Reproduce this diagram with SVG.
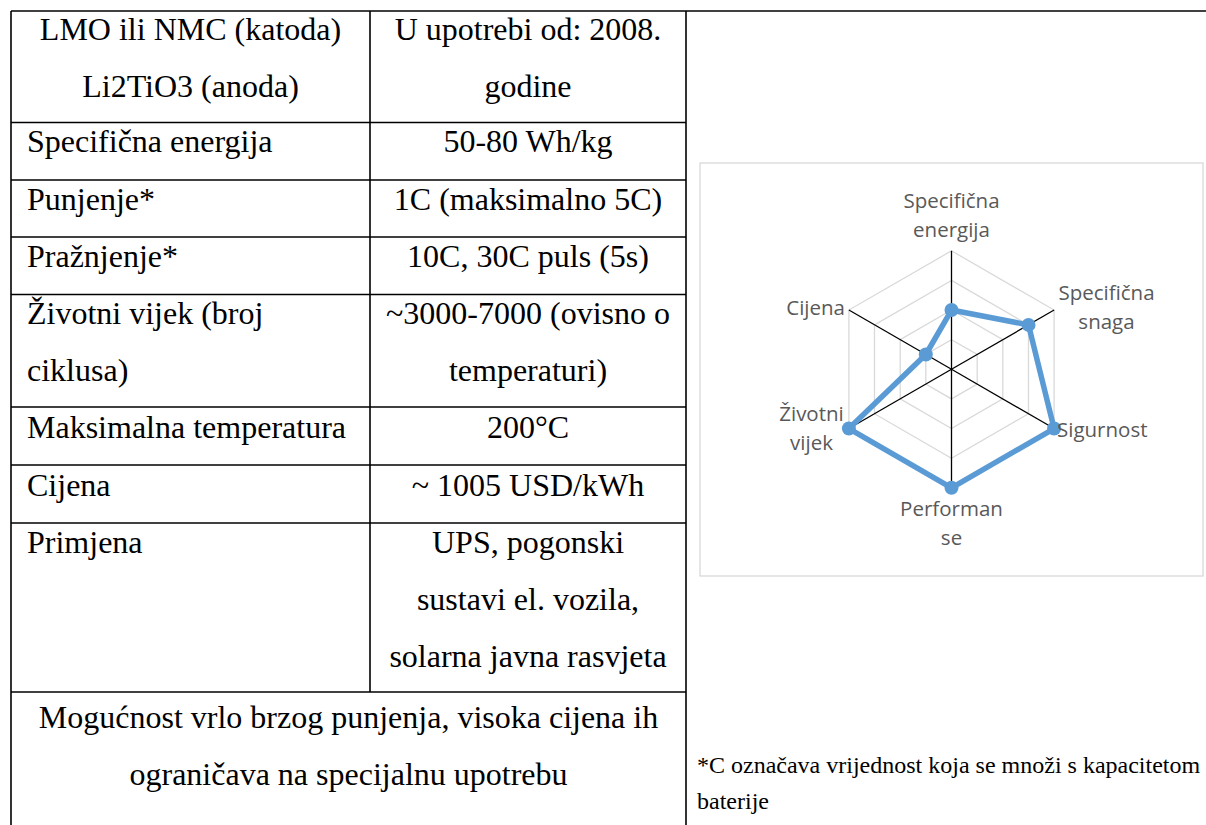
<svg xmlns="http://www.w3.org/2000/svg" width="1206" height="825" viewBox="0 0 1206 825">
<style>
.tl{stroke:#000;stroke-width:1.6;fill:none}
.t{font-family:"Liberation Serif","Times New Roman",serif;font-size:32px;fill:#000}
.c{text-anchor:middle}
.fn{font-family:"Liberation Serif","Times New Roman",serif;font-size:24px;fill:#000}
.lbl{font-family:"Open Sans","Noto Sans",sans-serif;font-size:20.5px;fill:#595959}
.grid{stroke:#D9D9D9;stroke-width:1.3;fill:none}
.ax{stroke:#000;stroke-width:1.3}
.ser{stroke:#5B9BD5;stroke-width:5.5;fill:none;stroke-linejoin:round}
.mk{fill:#5B9BD5}
</style>
<rect width="1206" height="825" fill="#fff"/>
<g id="table">
<g id="table-lines">
<line class="tl" x1="11" y1="11" x2="1206" y2="11"/>
<line class="tl" x1="11" y1="11" x2="11" y2="825"/>
<line class="tl" x1="686" y1="11" x2="686" y2="825"/>
<line class="tl" x1="370" y1="11" x2="370" y2="692"/>
<line class="tl" x1="11" y1="122.5" x2="686" y2="122.5"/>
<line class="tl" x1="11" y1="180" x2="686" y2="180"/>
<line class="tl" x1="11" y1="237" x2="686" y2="237"/>
<line class="tl" x1="11" y1="294.5" x2="686" y2="294.5"/>
<line class="tl" x1="11" y1="407" x2="686" y2="407"/>
<line class="tl" x1="11" y1="465" x2="686" y2="465"/>
<line class="tl" x1="11" y1="523" x2="686" y2="523"/>
<line class="tl" x1="11" y1="692" x2="686" y2="692"/>
</g>
<g id="row1">
<text class="t c" x="190.5" y="40">LMO ili NMC (katoda)</text>
<text class="t c" x="190.5" y="96.5">Li2TiO3 (anoda)</text>
<text class="t c" x="528" y="40">U upotrebi od: 2008.</text>
<text class="t c" x="528" y="96.5">godine</text>
</g>
<g id="row2">
<text class="t" x="27" y="152">Specifična energija</text>
<text class="t c" x="528" y="152">50-80 Wh/kg</text>
</g>
<g id="row3">
<text class="t" x="27" y="209.5">Punjenje*</text>
<text class="t c" x="528" y="209.5">1C (maksimalno 5C)</text>
</g>
<g id="row4">
<text class="t" x="27" y="266.5">Pražnjenje*</text>
<text class="t c" x="528" y="266.5">10C, 30C puls (5s)</text>
</g>
<g id="row5">
<text class="t" x="27" y="324">Životni vijek (broj</text>
<text class="t" x="27" y="381.3">ciklusa)</text>
<text class="t c" x="528" y="324">~3000-7000 (ovisno o</text>
<text class="t c" x="528" y="381.3">temperaturi)</text>
</g>
<g id="row6">
<text class="t" x="27" y="437.5">Maksimalna temperatura</text>
<text class="t c" x="528" y="437.5">200°C</text>
</g>
<g id="row7">
<text class="t" x="27" y="495.5">Cijena</text>
<text class="t c" x="528" y="495.5">~ 1005 USD/kWh</text>
</g>
<g id="row8">
<text class="t" x="27" y="553">Primjena</text>
<text class="t c" x="528" y="553">UPS, pogonski</text>
<text class="t c" x="528" y="610">sustavi el. vozila,</text>
<text class="t c" x="528" y="667">solarna javna rasvjeta</text>
</g>
<g id="row9">
<text class="t c" x="348.5" y="727.5">Mogućnost vrlo brzog punjenja, visoka cijena ih</text>
<text class="t c" x="348.5" y="784.5">ograničava na specijalnu upotrebu</text>
</g>
</g>
<g id="chart">
<rect x="700" y="163" width="503" height="413" fill="#fff" stroke="#D9D9D9" stroke-width="1.3"/>
<g transform="translate(951.5,369.3)">
<g id="grid">
<polygon class="grid" points="0,-118.5 102.6,-59.25 102.6,59.25 0,118.5 -102.6,59.25 -102.6,-59.25"/>
<polygon class="grid" points="0,-88.9 77,-44.4 77,44.4 0,88.9 -77,44.4 -77,-44.4"/>
<polygon class="grid" points="0,-59.25 51.3,-29.6 51.3,29.6 0,59.25 -51.3,29.6 -51.3,-29.6"/>
<polygon class="grid" points="0,-29.6 25.7,-14.8 25.7,14.8 0,29.6 -25.7,14.8 -25.7,-14.8"/>
</g>
<g id="axes">
<line class="ax" x1="0" y1="0" x2="0" y2="-118.5"/>
<line class="ax" x1="0" y1="0" x2="102.6" y2="-59.25"/>
<line class="ax" x1="0" y1="0" x2="102.6" y2="59.25"/>
<line class="ax" x1="0" y1="0" x2="0" y2="118.5"/>
<line class="ax" x1="0" y1="0" x2="-102.6" y2="59.25"/>
<line class="ax" x1="0" y1="0" x2="-102.6" y2="-59.25"/>
</g>
<g id="series">
<polygon class="ser" points="0,-59.25 77,-44.4 102.6,59.25 0,118.5 -102.6,59.25 -25.7,-14.8"/>
<circle class="mk" cx="0" cy="-59.25" r="7"/>
<circle class="mk" cx="77" cy="-44.4" r="7"/>
<circle class="mk" cx="102.6" cy="59.25" r="7"/>
<circle class="mk" cx="0" cy="118.5" r="7"/>
<circle class="mk" cx="-102.6" cy="59.25" r="7"/>
<circle class="mk" cx="-25.7" cy="-14.8" r="7"/>
</g>
</g>
<g id="labels">
<text class="lbl c" x="951.5" y="208">Specifična</text>
<text class="lbl c" x="951.5" y="237">energija</text>
<text class="lbl c" x="1106.5" y="300">Specifična</text>
<text class="lbl c" x="1106.5" y="329">snaga</text>
<text class="lbl" x="1057" y="437">Sigurnost</text>
<text class="lbl c" x="951.5" y="516">Performan</text>
<text class="lbl c" x="951.5" y="545">se</text>
<text class="lbl c" x="811.5" y="421">Životni</text>
<text class="lbl c" x="811.5" y="450">vijek</text>
<text class="lbl" x="845" y="315" text-anchor="end">Cijena</text>
</g>
</g>
<g id="footnote">
<text class="fn" x="697" y="773">*C označava vrijednost koja se množi s kapacitetom</text>
<text class="fn" x="697" y="809">baterije</text>
</g>
</svg>
